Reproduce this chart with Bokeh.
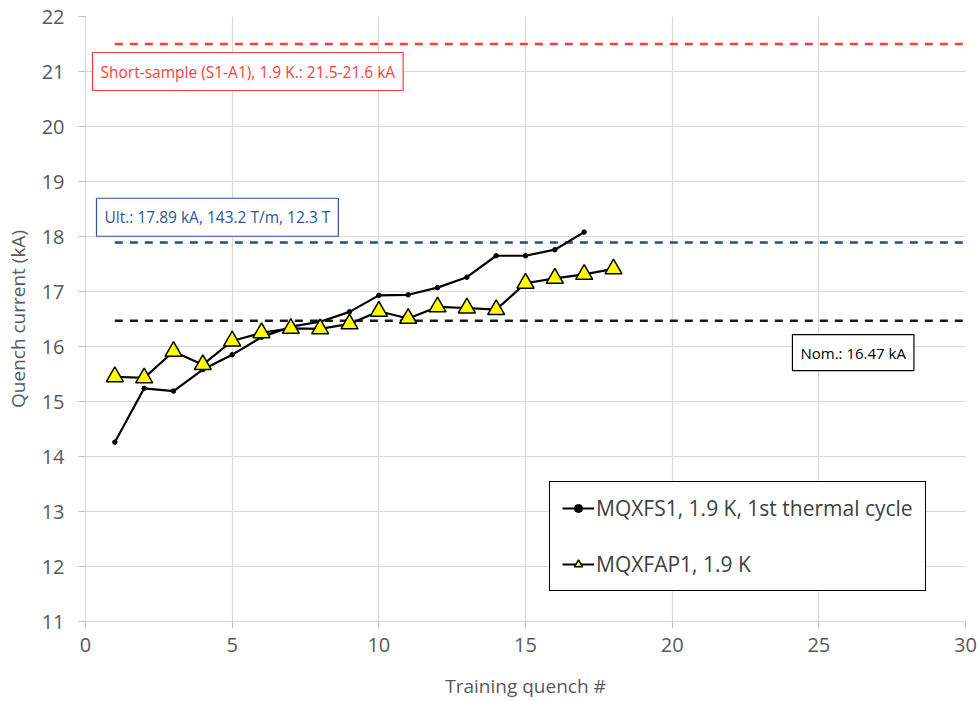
from bokeh.plotting import figure
from bokeh.models import Label, Range1d, FixedTicker, Legend, LegendItem
from bokeh.embed import file_html
from bokeh.resources import INLINE

# ---- data ----
quench_s1 = list(range(1, 18))
current_s1 = [14.26, 15.24, 15.19, 15.58, 15.85, 16.17, 16.36, 16.45, 16.63,
              16.93, 16.94, 17.07, 17.26, 17.65, 17.65, 17.76, 18.08]
quench_ap1 = list(range(1, 19))
current_ap1 = [15.45, 15.43, 15.91, 15.67, 16.10, 16.25, 16.33, 16.32, 16.41,
               16.64, 16.51, 16.72, 16.70, 16.67, 17.15, 17.24, 17.31, 17.41]
ref_x = [1, 30]
short_sample = 21.5
ultimate = 17.89
nominal = 16.47
x_ticks = [0, 5, 10, 15, 20, 25, 30]
y_ticks = list(range(11, 23))

FONT = "Open Sans"
GRAY = "#595959"

p = figure(width=980, height=701, output_backend="svg", toolbar_location=None,
           x_range=Range1d(0, 30), y_range=Range1d(11, 22),
           min_border_left=85, min_border_right=15, min_border_top=16,
           min_border_bottom=79)
p.outline_line_color = None
p.background_fill_color = "white"

for ax in (p.xaxis[0], p.yaxis[0]):
    ax.axis_line_color = "#d9d9d9"
    ax.major_tick_line_color = "#bfbfbf"
    ax.major_tick_in = 0
    ax.major_tick_out = 7
    ax.minor_tick_line_color = None
    ax.major_label_text_font = FONT
    ax.major_label_text_font_size = "20px"
    ax.major_label_text_color = GRAY
    ax.axis_label_text_font = FONT
    ax.axis_label_text_font_size = "19px"
    ax.axis_label_text_color = GRAY
    ax.axis_label_text_font_style = "normal"

p.xaxis.ticker = FixedTicker(ticks=x_ticks)
p.yaxis.ticker = FixedTicker(ticks=y_ticks)
p.xaxis.axis_label = "Training quench #"
p.yaxis.axis_label = "Quench current (kA)"
p.xaxis.major_label_standoff = 9
p.yaxis.major_label_standoff = 14
p.xaxis.axis_label_standoff = 18
p.yaxis.axis_label_standoff = 8

p.xgrid.grid_line_color = "#d9d9d9"
p.ygrid.grid_line_color = "#d9d9d9"
p.xgrid.grid_line_width = 1.2
p.ygrid.grid_line_width = 1.2

# reference lines
p.line(ref_x, [short_sample] * 2, line_color="#ff3c3c", line_width=2.5, line_dash="8 7")
p.line(ref_x, [ultimate] * 2, line_color="#2a4a80", line_width=2.5, line_dash="8 7")
p.line(ref_x, [nominal] * 2, line_color="#1a1a1a", line_width=2.5, line_dash="8 7")

# series
l1 = p.line(quench_s1, current_s1, line_color="black", line_width=2.2)
c1 = p.scatter(quench_s1, current_s1, marker="circle", size=4.5, fill_color="black",
               line_color="black")
l2 = p.line(quench_ap1, current_ap1, line_color="black", line_width=2.2)
t2 = p.scatter(quench_ap1, current_ap1, marker="triangle", size=17,
               fill_color="#ffff00", line_color="black", line_width=1.5)

legend = Legend(items=[
    LegendItem(label="MQXFS1, 1.9 K, 1st thermal cycle", renderers=[l1, c1]),
    LegendItem(label="MQXFAP1, 1.9 K", renderers=[l2, t2]),
], location=(464, 30))
legend.label_text_font = FONT
legend.label_text_font_size = "21px"
legend.label_text_color = "#404040"
legend.border_line_color = "black"
legend.border_line_alpha = 1
legend.border_line_width = 1.5
legend.glyph_width = 32
legend.glyph_height = 20
legend.label_height = 20
legend.spacing = 28
legend.padding = 12
legend.label_standoff = 2
legend.margin = 0
legend.background_fill_alpha = 1
p.add_layout(legend, "center")

# annotation boxes
p.add_layout(Label(x=0.24, y=21.0, text="Short-sample (S1-A1), 1.9 K.: 21.5-21.6 kA",
                   text_font=FONT, text_font_size="15.5px", text_color="#ff3c3c",
                   text_baseline="middle", border_line_color="#ff3c3c",
                   border_line_width=1.2, background_fill_color="white", padding=8))
p.add_layout(Label(x=0.375, y=18.35, text="Ult.: 17.89 kA, 143.2 T/m, 12.3 T",
                   text_font=FONT, text_font_size="15.5px", text_color="#2f5597",
                   text_baseline="middle", border_line_color="#2f5597",
                   border_line_width=1.2, background_fill_color="white", padding=8))
p.add_layout(Label(x=24.1, y=15.89, text="Nom.: 16.47 kA",
                   text_font=FONT, text_font_size="15px", text_color="black",
                   text_baseline="middle", border_line_color="black",
                   border_line_width=1.2, background_fill_color="white", padding=8))

open("out.html", "w").write(file_html(p, INLINE))
